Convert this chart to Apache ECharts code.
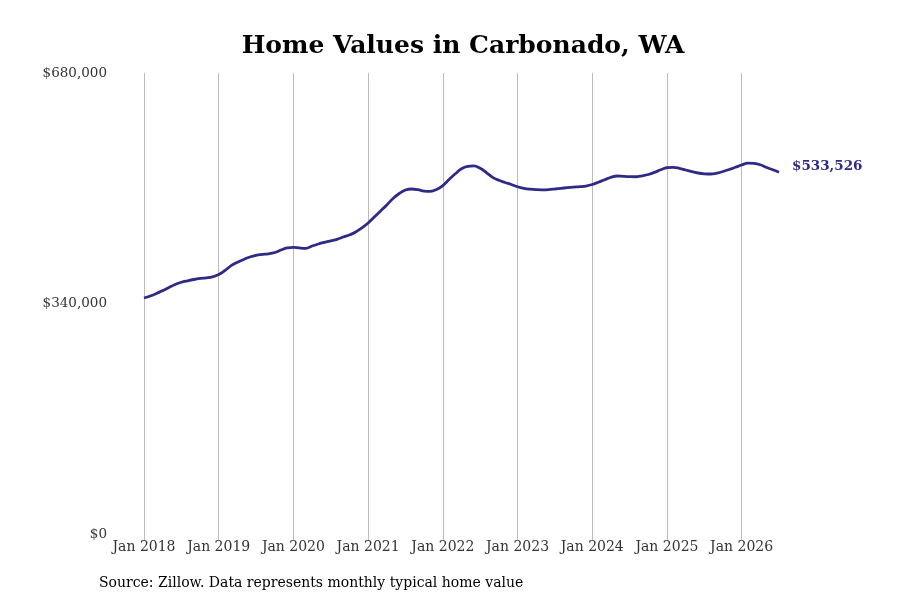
<!DOCTYPE html>
<html>
<head>
<meta charset="utf-8">
<script src="https://cdn.jsdelivr.net/npm/echarts@6/dist/echarts.min.js"></script>
<style>html,body{margin:0;padding:0;background:#fff}#c{width:900px;height:600px}</style>
</head>
<body>
<div id="c"></div>
<script>
const titleText = "Home Values in Carbonado, WA";
const sourceText = "Source: Zillow. Data represents monthly typical home value";
const startYear = 2018;
const yTicks = [0, 340000, 680000];
const values = [
  348100, 351000, 354700, 359000, 363600, 368000, 371300, 373500, 375400, 376900, 377900, 379400,
  382800, 388700, 395800, 400800, 404900, 408600, 411100, 412300, 413300, 415200, 418900, 421900,
  422900, 421900, 421400, 424800, 427800, 430300, 432500, 434700, 438100, 441100, 445500, 451400,
  458700, 467600, 476400, 485300, 494900, 502300, 507400, 508900, 507900, 505900, 505500, 508200,
  514000, 522900, 531300, 538800, 542400, 543100, 539400, 533200, 526100, 521700, 518500, 515500,
  512200, 509900, 508600, 507900, 507700, 508000, 508900, 509900, 510800, 511600, 512300, 513300,
  515500, 518900, 522600, 526100, 528100, 527600, 527200, 527000, 528400, 530300, 533500, 537200,
  540300, 540900, 539400, 536900, 534400, 532500, 531300, 531000, 532200, 534700, 537600, 540900,
  544300, 547200, 546800, 544600, 540600, 537200, 533526
];
const monthNames = ["Jan","Feb","Mar","Apr","May","Jun","Jul","Aug","Sep","Oct","Nov","Dec"];
const categories = values.map((v, i) => monthNames[i % 12] + " " + (startYear + Math.floor(i / 12)));

const font = "DejaVu Serif";
const fmtMoney = v => "$" + Math.round(v).toLocaleString("en-US");

const chart = echarts.init(document.getElementById("c"), null, {renderer: "canvas"});
chart.setOption({
  animation: false,
  backgroundColor: "#fff",
  title: {
    text: titleText,
    left: 458, top: 29, textAlign: "center",
    textStyle: {fontFamily: font, fontSize: 25, fontWeight: "bold", color: "#000"}
  },
  graphic: [{
    type: "text", left: 99, top: 576,
    style: {text: sourceText, fontFamily: font, fontSize: 14, fill: "#000"}
  }],
  grid: {left: 144, right: 121, top: 73, bottom: 66, containLabel: false},
  xAxis: {
    type: "category",
    data: categories,
    boundaryGap: false,
    axisLine: {show: false},
    axisTick: {show: true, interval: i => i % 12 === 0, length: 6, lineStyle: {color: "#bbb"}},
    splitLine: {show: true, interval: i => i % 12 === 0, lineStyle: {color: "#bbb", width: 1}},
    axisLabel: {
      interval: i => i % 12 === 0,
      fontFamily: font, fontSize: 14, color: "#333", margin: 6
    }
  },
  yAxis: {
    type: "value",
    min: 0, max: 680000, interval: 340000,
    axisLine: {show: false},
    axisTick: {show: false},
    splitLine: {show: false},
    axisLabel: {
      formatter: v => fmtMoney(v),
      fontFamily: font, fontSize: 13.5, color: "#333", margin: 37,
      padding: [4, 0, 0, 0]
    }
  },
  series: [{
    type: "line",
    data: values,
    smooth: 0.4,
    symbol: "none",
    lineStyle: {color: "#2e2a86", width: 2.8},
    endLabel: {
      show: true,
      formatter: p => fmtMoney(p.value),
      fontFamily: font, fontSize: 13.5, fontWeight: "bold", color: "#2e2a86",
      offset: [5, -6]
    }
  }]
});
</script>
</body>
</html>
